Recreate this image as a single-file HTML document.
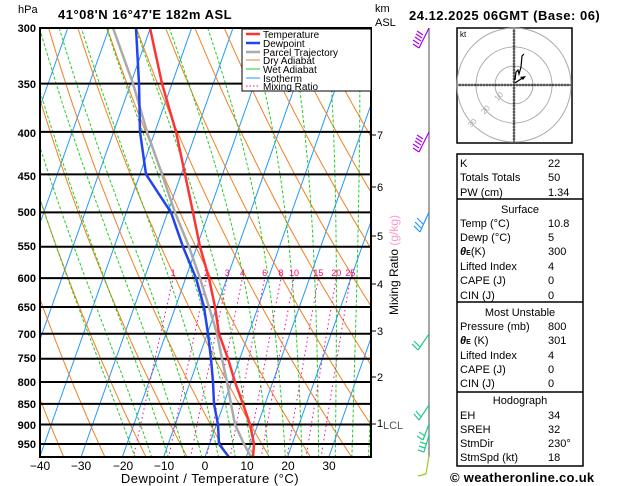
<!DOCTYPE html>
<html><head><meta charset="utf-8"><style>
body{margin:0;background:#fff;width:629px;height:486px;overflow:hidden}
svg{display:block;font-family:"Liberation Sans",sans-serif}
</style></head><body>
<svg id="s" width="629" height="486" viewBox="0 0 629 486" xmlns="http://www.w3.org/2000/svg">
<defs><clipPath id="cp"><rect x="40" y="28" width="331" height="429"/></clipPath></defs>
<g id="bg" clip-path="url(#cp)"></g>
<g id="plines"></g>
<g id="prof" clip-path="url(#cp)"></g>
<rect x="40" y="28" width="331" height="429" fill="none" stroke="#000" stroke-width="2"/>
<g font-size="11" font-weight="bold" text-anchor="end">
<text x="36" y="32">300</text><text x="36" y="88">350</text><text x="36" y="137">400</text><text x="36" y="180">450</text><text x="36" y="216">500</text><text x="36" y="250">550</text><text x="36" y="282">600</text><text x="36" y="311">650</text><text x="36" y="338">700</text><text x="36" y="362">750</text><text x="36" y="386">800</text><text x="36" y="408">850</text><text x="36" y="429">900</text><text x="36" y="448">950</text>
</g>
<text x="18" y="13" font-size="11">hPa</text>
<text x="58" y="19" font-size="13" font-weight="bold" letter-spacing="0.5">41°08'N  16°47'E  182m  ASL</text>
<g font-size="12" text-anchor="middle">
<text x="40" y="470">−40</text><text x="81" y="470">−30</text><text x="123" y="470">−20</text><text x="164" y="470">−10</text><text x="205" y="470">0</text><text x="247" y="470">10</text><text x="288" y="470">20</text><text x="329" y="470">30</text>
</g>
<text x="210" y="483" font-size="13" text-anchor="middle" letter-spacing="0.5">Dewpoint / Temperature (°C)</text>
<rect x="242" y="29" width="129" height="62" fill="#fff" stroke="#000" stroke-width="1"/>
<g font-size="10">
<line x1="246" y1="34" x2="260" y2="34" stroke="#f33" stroke-width="2.5"/><text x="263" y="38">Temperature</text>
<line x1="246" y1="43" x2="260" y2="43" stroke="#2244ee" stroke-width="2.5"/><text x="263" y="47">Dewpoint</text>
<line x1="246" y1="52" x2="260" y2="52" stroke="#aaa" stroke-width="2.5"/><text x="263" y="56">Parcel Trajectory</text>
<line x1="246" y1="60" x2="260" y2="60" stroke="#f08020" stroke-width="1"/><text x="263" y="64">Dry Adiabat</text>
<line x1="246" y1="69" x2="260" y2="69" stroke="#2c2" stroke-width="1"/><text x="263" y="73">Wet Adiabat</text>
<line x1="246" y1="78" x2="260" y2="78" stroke="#29f" stroke-width="1"/><text x="263" y="82">Isotherm</text>
<line x1="246" y1="86" x2="260" y2="86" stroke="#f0a" stroke-width="1" stroke-dasharray="1.5,2"/><text x="263" y="90">Mixing Ratio</text>
</g>
<text x="375" y="12" font-size="11">km</text><text x="375" y="26" font-size="11">ASL</text>
<g font-size="11" stroke="#000">
<line x1="371" y1="135" x2="376" y2="135"/><line x1="371" y1="187" x2="376" y2="187"/><line x1="371" y1="236" x2="376" y2="236"/><line x1="371" y1="284" x2="376" y2="284"/><line x1="371" y1="331" x2="376" y2="331"/><line x1="371" y1="377" x2="376" y2="377"/><line x1="371" y1="424" x2="376" y2="424"/>
</g>
<g font-size="11"><text x="377" y="139">7</text><text x="377" y="191">6</text><text x="377" y="240">5</text><text x="377" y="288">4</text><text x="377" y="335">3</text><text x="377" y="381">2</text><text x="377" y="427">1</text>
<text x="383" y="429" fill="#555">LCL</text></g>
<text transform="translate(398,265) rotate(-90)" font-size="12" text-anchor="middle">Mixing Ratio <tspan fill="#f9c">(g/kg)</tspan></text>
<line x1="429" y1="28" x2="429" y2="457" stroke="#888" stroke-width="1.5"/>
<g fill="none" stroke-width="1.2">
<path d="M429 28 L419 48 M419 44 L413 40 M421 41 L415 37 M422 38 L416 34 M423 35 L417 31 M419 48 L413 44" stroke="#a0e"/>
<path d="M429 132 L419 152 M419 148 L413 144 M421 145 L415 141 M422 142 L416 138 M423 139 L417 135 M419 152 L413 148" stroke="#a0e"/>
<path d="M429 212 L420 232 M420 232 L414 226 M421 228 L415 222 M423 224 L417 218" stroke="#29f"/>
<path d="M429 334 L418 350 M418 350 L412 344 M420 347 L414 341" stroke="#2c8"/>
<path d="M429 405 L419 420 M419 420 L414 414 M421 417 L416 411" stroke="#2c8"/>
<path d="M429 424 L423 440 M423 440 L417 436 M425 436 L419 432" stroke="#2c8"/>
<path d="M429 435 L424 452 M424 452 L418 450 M425 448 L419 446 M426 444 L420 442" stroke="#2c8"/>
<path d="M429 456 L426 474 M426 474 L418 476" stroke="#9c2"/>
</g>
<text x="409" y="20" font-size="13" font-weight="bold" letter-spacing="0.5">24.12.2025  06GMT  (Base: 06)</text>
<g id="hodo"></g>
<rect x="457" y="154" width="126" height="312" fill="none" stroke="#000" stroke-width="1.5"/>
<g stroke="#000" stroke-width="1.5"><line x1="457" y1="199" x2="583" y2="199"/><line x1="457" y1="302" x2="583" y2="302"/><line x1="457" y1="392" x2="583" y2="392"/></g>
<g font-size="11">
<text x="460" y="167">K</text><text x="548" y="167">22</text>
<text x="460" y="181">Totals Totals</text><text x="548" y="181">50</text>
<text x="460" y="196">PW (cm)</text><text x="548" y="196">1.34</text>
<text x="520" y="213" text-anchor="middle">Surface</text>
<text x="460" y="227">Temp (°C)</text><text x="548" y="227">10.8</text>
<text x="460" y="241">Dewp (°C)</text><text x="548" y="241">5</text>
<text x="460" y="255"><tspan font-weight="bold" font-style="italic">θ</tspan><tspan font-size="7" font-weight="bold">E</tspan>(K)</text><text x="548" y="255">300</text>
<text x="460" y="270">Lifted Index</text><text x="548" y="270">4</text>
<text x="460" y="284">CAPE (J)</text><text x="548" y="284">0</text>
<text x="460" y="299">CIN (J)</text><text x="548" y="299">0</text>
<text x="520" y="316" text-anchor="middle">Most Unstable</text>
<text x="460" y="330">Pressure (mb)</text><text x="548" y="330">800</text>
<text x="460" y="344"><tspan font-weight="bold" font-style="italic">θ</tspan><tspan font-size="7" font-weight="bold">E</tspan> (K)</text><text x="548" y="344">301</text>
<text x="460" y="359">Lifted Index</text><text x="548" y="359">4</text>
<text x="460" y="373">CAPE (J)</text><text x="548" y="373">0</text>
<text x="460" y="387">CIN (J)</text><text x="548" y="387">0</text>
<text x="520" y="404" text-anchor="middle">Hodograph</text>
<text x="460" y="419">EH</text><text x="548" y="419">34</text>
<text x="460" y="433">SREH</text><text x="548" y="433">32</text>
<text x="460" y="447">StmDir</text><text x="548" y="447">230°</text>
<text x="460" y="461">StmSpd (kt)</text><text x="548" y="461">18</text>
</g>
<text x="450" y="482" font-size="13" font-weight="bold" letter-spacing="0.3">© weatheronline.co.uk</text>
</svg>
<script>
var NS="http://www.w3.org/2000/svg";
function Y(p){return 28+360.9*Math.log(p/300);}
function X(T,p){return 205+4.13*T+0.354*(457-Y(p));}
function el(par,tag,a){var e=document.createElementNS(NS,tag);for(var k in a)e.setAttribute(k,a[k]);document.getElementById(par).appendChild(e);return e;}
function pl(par,pts,st,w,dash){var d=pts.map(function(q,i){return (i?"L":"M")+q[0].toFixed(1)+" "+q[1].toFixed(1)}).join("");var a={d:d,fill:"none",stroke:st,"stroke-width":w};if(dash)a["stroke-dasharray"]=dash;el(par,"path",a);}
var ps=[];for(var p=1000;p>=290;p-=5)ps.push(p);
for(var T=-120;T<=40;T+=10){pl("bg",[[X(T,1000),Y(1000)],[X(T,290),Y(290)]],"#29f",1);}
for(var th=240;th<=480;th+=10){pl("bg",ps.map(function(p){return [X(th*Math.pow(p/1000,0.2857)-273.15,p),Y(p)]}),"#f08020",1);}
function es(Tc){return 6.112*Math.exp(17.67*Tc/(Tc+243.5));}
for(var T0=-16;T0<=40;T0+=4){var T=T0+273.15,pts=[];for(var p=1000;p>=290;p-=5){pts.push([X(T-273.15,p),Y(p)]);var e=es(T-273.15),rs=0.622*e/(p-e);var dT=(287*T+2.5e6*rs)/(1004+2.5e6*2.5e6*rs*0.622/(287*T*T))/p;T-=dT*5;}pl("bg",pts,"#2c2",1,"3,2");}
var ws=[1,2,3,4,6,8,10,15,20,25];
ws.forEach(function(w){var pts=[];for(var p=1000;p>=600;p-=10){var e=w/1000*p/(0.622+w/1000);var l=Math.log(e/6.112);var Td=243.5*l/(17.67-l);pts.push([X(Td,p),Y(p)]);}pl("bg",pts,"#f0a",1,"1.5,3");var q=pts[pts.length-1];var t=el("bg","text",{x:q[0],y:276,"font-size":"9",fill:"#f07","text-anchor":"middle"});t.textContent=w;});
[300,350,400,450,500,550,600,650,700,750,800,850,900,950].forEach(function(p){el("plines","line",{x1:40,x2:371,y1:Y(p),y2:Y(p),stroke:"#000","stroke-width":2});});
var P=[300,350,400,450,500,550,600,650,700,750,800,850,900,950,985];
var Tp=[150,162,176,185,193,200,209,215,219,228,235,243,250,254,253];
var Dp=[136,139,140,146,171,183,196,204,208,211,213,214,218,219,229];
var Gp=[113,133,147,162,175,189,200,209,217,222,227,231,235,244,251];
function prof(a,c){pl("prof",a.map(function(x,i){return [x,Y(P[i])]}),c,2.5);}
prof(Gp,"#aaa");prof(Dp,"#2244ee");prof(Tp,"#f33");
var h="hodo";
el(h,"rect",{x:457,y:28,width:115,height:115,fill:"#fff",stroke:"#000","stroke-width":1.5});
var cx=514,cy=85;
[19,38,57].forEach(function(r){el(h,"circle",{cx:cx,cy:cy,r:r,fill:"none",stroke:"#aaa","stroke-width":1});});
el(h,"line",{x1:cx,y1:29,x2:cx,y2:142,stroke:"#000","stroke-width":1});
el(h,"line",{x1:458,y1:cy,x2:571,y2:cy,stroke:"#000","stroke-width":1});
for(var i=-18;i<=18;i++){if(!i)continue;el(h,"line",{x1:cx-1.5,x2:cx+1.5,y1:cy+i*3,y2:cy+i*3,stroke:"#000","stroke-width":0.6});el(h,"line",{y1:cy-1.5,y2:cy+1.5,x1:cx+i*3,x2:cx+i*3,stroke:"#000","stroke-width":0.6});}
var kt=el(h,"text",{x:460,y:37,"font-size":"8"});kt.textContent="kt";
[[10,19],[20,38],[30,57]].forEach(function(a){var d=a[1]*0.7;var t=el(h,"text",{x:cx-d,y:cy+d,"font-size":"8",fill:"#aaa","text-anchor":"middle",transform:"rotate(-45 "+(cx-d)+" "+(cy+d)+")"});t.textContent=a[0];});
pl(h,[[515,80],[516,72],[518,70],[519,74],[521,67],[522,56],[524,54]],"#000",1.2);
pl(h,[[515,83],[524,77]],"#000",1.2);
el(h,"path",{d:"M526 76 L520 77 L523 80 Z",fill:"#000"});
</script>
</body></html>
